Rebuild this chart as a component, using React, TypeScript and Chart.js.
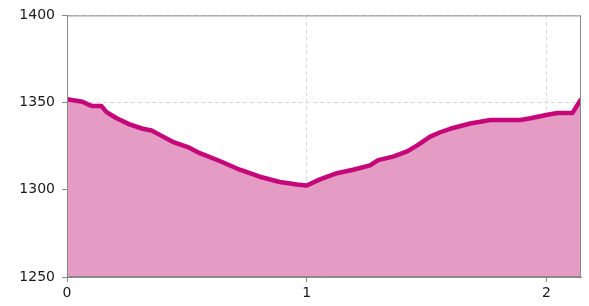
import React, { useEffect, useRef } from "react";
import { Chart, registerables } from "chart.js";

Chart.register(...registerables);

const distanceKm = [0, 0.065, 0.086, 0.107, 0.144, 0.165, 0.207, 0.261, 0.316, 0.353, 0.387, 0.441, 0.504, 0.554, 0.637, 0.721, 0.804, 0.888, 0.959, 1.0, 1.055, 1.126, 1.193, 1.264, 1.298, 1.36, 1.419, 1.461, 1.515, 1.557, 1.598, 1.682, 1.766, 1.891, 1.933, 2.004, 2.046, 2.108, 2.144];
const elevation = [1352, 1350.5, 1349, 1348, 1348, 1344.5, 1341, 1337.5, 1335, 1334, 1331.5, 1327.5, 1324.5, 1321, 1316.5, 1311.5, 1307.5, 1304.5, 1303, 1302.5, 1306, 1309.5, 1311.5, 1314, 1317, 1319, 1322, 1325.5, 1330.5, 1333, 1335, 1338, 1340, 1340, 1341, 1343, 1344, 1344, 1352];
const xTicks = [0, 1, 2];
const yTicks = [1250, 1300, 1350, 1400];

const frame = {
  id: "frame",
  afterDraw(chart: any) {
    const { ctx, chartArea } = chart;
    ctx.save();
    ctx.strokeStyle = "#8a8a8a";
    ctx.lineWidth = 1;
    ctx.strokeRect(chartArea.left + 0.5, chartArea.top + 0.5, chartArea.right - chartArea.left - 1, chartArea.bottom - chartArea.top - 1);
    ctx.restore();
  },
};

export default function App() {
  const ref = useRef<HTMLCanvasElement>(null);
  useEffect(() => {
    document.body.style.margin = "0";
    const chart = new Chart(ref.current!, {
      type: "line",
      data: {
        datasets: [
          {
            data: distanceKm.map((x, i) => ({ x, y: elevation[i] })),
            borderColor: "#c6077a",
            backgroundColor: "#e59cc4",
            borderWidth: 4.5,
            fill: "origin",
            pointRadius: 0,
            tension: 0,
            borderJoinStyle: "round",
          },
        ],
      },
      options: {
        animation: false,
        responsive: false,
        maintainAspectRatio: false,
        layout: { padding: { top: 15, right: 8, left: 0, bottom: 0 } },
        plugins: { legend: { display: false }, tooltip: { enabled: false } },
        scales: {
          x: {
            type: "linear",
            min: 0,
            max: 2.144,
            afterBuildTicks: (s: any) => {
              s.ticks = xTicks.map((v) => ({ value: v }));
            },
            afterFit: (s: any) => {
              s.height = 29;
            },
            ticks: { color: "#1a1a1a", font: { family: "DejaVu Sans", size: 14 }, padding: 3, maxRotation: 0, callback: (v: any) => String(v) },
            grid: { color: "#d8d8d8", tickLength: 5, tickColor: "#8a8a8a", tickBorderDash: [] },
            border: { display: true, color: "#8a8a8a", dash: [4, 3] },
          },
          y: {
            min: 1250,
            max: 1400,
            afterBuildTicks: (s: any) => {
              s.ticks = yTicks.map((v) => ({ value: v }));
            },
            afterFit: (s: any) => {
              s.width = 67;
            },
            ticks: { color: "#1a1a1a", font: { family: "DejaVu Sans", size: 14 }, padding: 7, callback: (v: any) => String(v) },
            grid: { color: "#d8d8d8", tickLength: 5, tickColor: "#8a8a8a", tickBorderDash: [] },
            border: { display: true, color: "#8a8a8a", dash: [4, 3] },
          },
        },
      },
      plugins: [frame],
    });
    return () => chart.destroy();
  }, []);
  return (
    <div style={{ position: "fixed", left: 0, top: 0, width: 589, height: 306 }}>
      <canvas ref={ref} width={589} height={306} style={{ display: "block" }} />
    </div>
  );
}
